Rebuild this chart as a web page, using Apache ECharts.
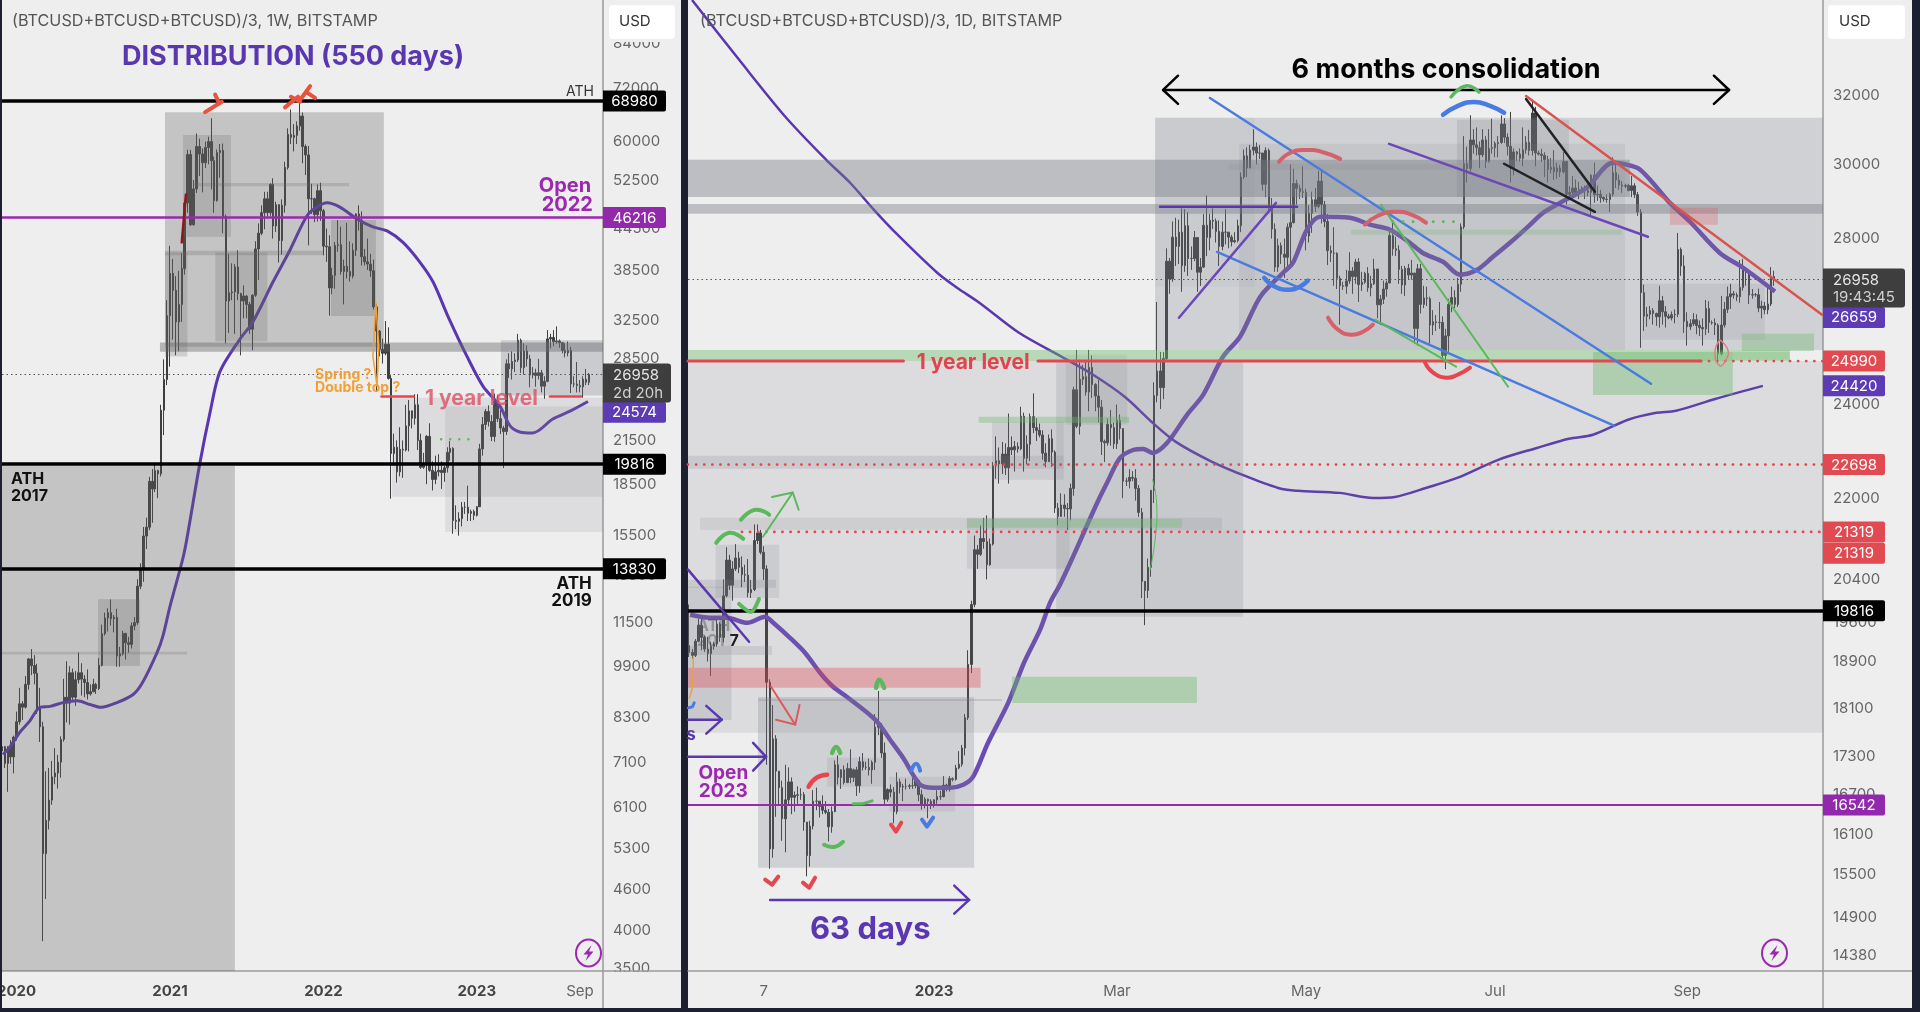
<!DOCTYPE html>
<html><head><meta charset="utf-8"><style>html,body{margin:0;padding:0;background:#1d2030}#c{width:1920px;height:1012px;filter:blur(.35px)}</style>
<script src="https://cdn.jsdelivr.net/npm/echarts@6/dist/echarts.min.js"></script></head><body><div id="c"></div>
<script>
// ---------- DATA ----------
// weekly bars, first Monday 2019-12-02: [open, close, low, high]
const weeklyBars=[
[7400,7510,7080,7750],[7510,7090,6980,7520],[7090,7500,6430,7520],[7500,7250,7080,7680],[7250,7760,6850,7800],
[7760,8180,7670,8470],[8180,8700,8100,9190],[8700,8600,8230,8780],[8600,9300,8560,9570],[9300,10150,9130,10180],[10150,9920,9600,10500],[9920,9660,9300,10280],[9660,8550,8400,9980],[8550,8040,7630,9190],[8040,5200,3850,8180],[5200,5830,4450,6900],[5830,6250,5650,6980],[6250,6770,6150,7150],[6770,6860,6600,7470],[6860,7120,6500,7300],[7120,7700,6750,7780],[7700,8900,7640,9480],[8900,8720,8160,10070],[8720,9680,8100,9900],[9680,8900,8820,9820],[8900,9450,8640,9740],[9450,9680,9330,10380],[9680,9470,8950,10000],[9470,9360,8900,9600],[9360,9000,8830,9790],[9000,9070,8950,9300],[9070,9300,9050,9480],[9300,9170,9000,9350],[9170,9930,9120,10180],[9930,11070,9890,11420],[11070,11680,11000,11900],[11680,11900,11150,12080],[11900,11650,11380,12450],[11650,11710,11120,11800],[11710,10250,9880,12060],[10250,10330,9880,10580],[10330,11080,10270,11180],[11080,10730,10130,11100],[10730,10670,10370,10950],[10670,11370,10520,11500],[11370,11500,11200,11720],[11500,13030,11410,13350],[13030,13800,12900,14100],[13800,15480,13230,15970],[15480,15960,14800,16490],[15960,18680,15800,18970],[18680,18200,16200,19480],[18200,19380,18000,19920],[19380,19170,17630,19440],[19170,23850,19000,24300],[23850,26500,21900,28400],[26500,33000,26000,34800],
[33000,38150,27700,41950],[38150,36000,30400,40100],[36000,32300,28800,37800],[32300,34300,29200,38500],[34300,38800,32300,40900],[38800,48600,38000,49000],[48600,57400,47000,58350],[57400,45100,44900,58300],[45100,51000,44950,52600],[51000,59000,50300,61700],[59000,57500,53300,60600],[57500,55800,50400,58600],[55800,58800,54800,60000],[58800,60000,55500,61000],[60000,56200,50900,65000],[56200,49000,47000,57000],[49000,57800,48800,58400],[57800,58200,53000,59500],[58200,46400,43800,59600],[46400,34700,30000,46700],[34700,35700,31100,40800],[35700,35800,34800,39500],[35800,39000,31000,39400],[39000,35600,34800,41300],[35600,34700,28800,35700],[34700,35300,32700,36600],[35300,34300,32700,35400],[34300,31500,31000,34600],[31500,35400,29300,35500],[35400,41500,35200,42600],[41500,43800,37300,45300],[43800,47000,43500,48200],[47000,49300,44400,50500],[49300,47000,46400,50500],[47000,51800,46500,52000],[51800,44900,43000,52900],[44900,48300,44000,48800],[48300,42700,39600,48400],[42700,48200,40700,49200],[48200,54900,47000,56000],[54900,61500,54500,62800],[61500,60900,59500,67000],[60900,61300,58000,63700],[61300,63300,59500,64300],[63300,65500,62300,68980],[65500,59000,55700,66300],[59000,57300,53500,59400],[57300,49300,42000,59100],[49300,49300,46800,51900],[49300,46700,45500,49500],[46700,50700,45600,51800],[50700,47300,45700,52100],
[47300,41900,40600,47600],[41900,41800,39700,44500],[41800,36300,33000,43500],[36300,37900,35500,38900],[37900,42000,36200,42500],[42000,42100,41100,45800],[42100,38400,38000,44800],[38400,39100,34300,40000],[39100,38400,37500,45400],[38400,37800,37100,42600],[37800,41300,37500,42300],[41300,46800,40500,46900],[46800,45800,44200,48200],[45800,40400,39200,47200],[40400,39700,39200,41500],[39700,39400,38600,43000],[39400,38500,37700,40800],[38500,34000,33700,40000],[34000,31300,25400,34300],[31300,29400,28700,31400],[29400,29000,28000,30500],[29000,29900,28800,32400],[29900,26600,26500,31700],[26600,20550,17600,26900],[20550,21000,19700,22000],[21000,19300,18600,21500],[19300,20850,19000,22500],[20850,20800,18900,21500],[20800,22600,20700,24300],[22600,23800,20700,24700],[23800,23200,22400,23800],[23200,24300,22700,25200],[24300,21500,20800,25200],[21500,19600,19500,22000],[19600,19800,19500,20600],[19800,21800,18500,21900],[21800,19400,19300,22800],[19400,18800,18100,20000],[18800,19300,18500,20400],[19300,19400,19000,20500],[19400,19250,18200,20000],[19250,19570,18650,19700],[19570,20630,19250,21000],[20630,20920,20050,21450],[20920,16330,15600,21000],[16330,16280,15850,17200],[16280,16430,15500,16800],[16430,17090,16000,17400],[17090,17090,16700,17400],[17090,16740,16300,18400],[16740,16840,16300,16950],[16840,16620,16350,16950],
[16620,17120,16550,17150],[17120,20880,17100,21250],[20880,22710,20400,23300],[22710,23740,22300,23950],[23740,22940,22550,24250],[22940,21790,21450,23450],[21790,24630,21400,25250],[24630,23160,22900,25150],[23160,22430,21970,23900],[22430,22160,19550,22600],[22160,27970,21900,28400],[27970,27490,26650,29000],[27490,28190,26500,29200],[28190,28340,27200,29000],[28340,30320,28150,31000],[30320,27600,27100,30500],[27600,29230,26950,30000],[29230,28450,27700,29800],[28450,26920,25800,28850],[26920,27110,26600,27650],[27110,26870,25850,27500],[26870,27120,26500,28450],[27120,25900,25350,27400],[25900,26340,24800,26800],[26340,30470,26250,31400],[30470,30620,29500,31000],[30620,30170,29700,31400],[30170,30250,29950,31800],[30250,30080,29550,30400],[30080,29280,29000,30100],[29280,29040,28600,30000],[29040,29280,28700,30200],[29280,26100,25300,29650],[26100,26090,25800,26800],[26090,25970,25350,28150],[25970,25840,25350,26450],[25840,26530,24900,26800],[26530,26250,26000,27480],[26250,26958,26000,27100]];
// daily bars, first day 2022-10-14 (day -79 from 2023-01-01): [open, close, low, high]
const dailyBars=[
[19180,19060,18980,19930],[19060,19010,18950,19120],[19010,19260,18980,19300],[19260,19550,19240,19670],[19550,19330,19100,19700],[19330,19120,19070,19360],[19120,19040,18900,19340],[19040,19170,18650,19250],[19170,19210,19110,19250],[19210,19570,19160,19690],[19570,19330,19250,19600],[19330,20090,19240,20400],[20090,20770,20060,21020],[20770,20290,20200,20870],[20290,20600,20000,20750],[20600,20810,20560,21080],[20810,20630,20520,20930],[20630,20490,20250,20840],
[20490,20480,20350,20680],[20480,20150,20060,20790],[20150,20210,20050,20390],[20210,21150,20180,21470],[21150,21300,21080,21470],[21300,20920,20880,21360],[20920,20600,20390,21040],[20600,18540,17170,20670],[18540,15880,15590,18590],[15880,17590,15750,18150],[17590,17070,16360,17650],[17070,16810,16540,17070],[16810,16330,16000,16920],[16330,16620,15830,17170],[16620,16900,16530,17130],[16900,16660,16400,16970],[16660,16690,16440,16750],[16690,16700,16550,16830],[16700,16700,16620,16800],[16700,16280,16150,16740],[16280,15780,15480,16280],[15780,16220,15620,16300],[16220,16600,16170,16770],[16600,16600,16460,16810],[16600,16520,16350,16600],[16520,16460,16400,16690],[16460,16430,16400,16600],[16430,16210,15990,16480],[16210,16440,16120,16520],[16440,17170,16430,17240],
[17170,16970,16860,17320],[16970,17090,16790,17100],[17090,16890,16860,17160],[16890,17110,16880,17200],[17110,16970,16880,17420],[16970,17090,16900,17110],[17090,16840,16680,17140],[16840,17220,16730,17300],[17220,17130,17080,17360],[17130,17130,17090,17220],[17130,17090,17000,17270],[17090,17210,16870,17240],[17210,17780,17090,18000],[17780,17810,17650,18390],[17810,17360,17280,17850],[17360,16630,16550,17530],[16630,16780,16590,16800],[16780,16740,16660,16860],[16740,16440,16260,16820],[16440,16900,16400,17050],[16900,16820,16720,16950],[16820,16830,16600,16870],[16830,16830,16780,16950],[16830,16840,16790,16870],[16840,16840,16790,16960],[16840,16920,16800,17000],[16920,16700,16600,16940],[16700,16550,16470,16780],[16550,16630,16490,16660],[16630,16600,16340,16640],[16600,16540,16480,16630],
[16540,16620,16500,16630],[16620,16670,16560,16770],[16670,16670,16620,16760],[16670,16850,16660,16990],[16850,16830,16750,16870],[16830,16950,16750,16990],[16950,16940,16910,16970],[16940,17120,16920,17170],[17120,17180,17100,17390],[17180,17440,17140,17490],[17440,17940,17320,18000],[17940,18850,17900,19100],[18850,19930,18700,20000],[19930,20970,19880,21250],[20970,20880,20600,21060],[20880,21190,20850,21450],[21190,21130,20990,21600],[21130,20680,20400,21650],[20680,21080,20660,21190],[21080,22670,21050,22750],[22670,22780,22400,23300],[22780,22710,22300,23060],[22710,22920,22500,23180],[22920,22630,22480,23150],[22630,23060,22300,23800],[23060,23010,22900,23300],[23010,23080,22550,23200],[23080,23030,22950,23170],[23030,23740,23000,23950],[23740,22830,22550,23820],[22830,23130,22700,23320],
[23130,23730,22770,23800],[23730,23490,23370,24250],[23490,23430,23200,23700],[23430,23330,23280,23580],[23330,22940,22800,23430],[22940,22760,22640,23150],[22760,23250,22750,23340],[23250,22960,22650,23450],[22960,21800,21700,23000],[21800,21630,21450,21900],[21630,21860,21620,22100],[21860,21790,21620,22080],[21790,21780,21360,21900],[21780,22200,21550,22300],[22200,24330,22050,24400],[24330,23520,23480,25250],[23520,24570,23340,25020],[24570,24630,24440,24900],[24630,24280,24200,25000],[24280,24840,23850,25250],[24840,24450,24150,25120],[24450,24190,23850,24480],[24190,23940,23600,24560],[23940,23190,22900,24100],[23190,23160,22750,23230],[23160,23560,23100,23690],[23560,23490,23100,23880],[23490,23140,23030,23600],
[23140,23650,23030,24000],[23650,23470,23230,23780],[23470,22350,22000,23480],[22350,22350,22250,22420],[22350,22430,22200,22600],[22430,22410,22350,22560],[22410,22200,21950,22600],[22200,21710,21620,22270],[21710,20360,20050,21800],[20360,20190,19550,20370],[20190,20630,20050,20800],[20630,22160,20450,22170],[22160,24200,21900,24500],[24200,24760,24050,26400],[24760,24380,23900,25200],[24380,25050,24120,25200],[25050,27420,25000,27750],[27420,26970,26600,27500],[26970,28040,26900,28450],[28040,27800,27300,28550],[27800,28170,27350,28500],[28170,27310,26650,28800],[27310,28340,27150,28780],[28340,27490,27050,28700],[27490,27490,27200,27800],[27490,28030,27420,28200],[28030,27140,26650,28000],[27140,27270,26800,27500],[27270,28350,27250,28650],[28350,28030,27550,29150],[28030,28480,27700,28650],
[28480,28460,28250,28800],[28460,28190,27900,28530],[28190,27800,27300,28480],[27800,28170,27700,28450],[28170,28170,27850,28780],[28170,28040,27750,28170],[28040,27920,27800,28100],[27920,27950,27880,28170],[27950,28340,27900,28500],[28340,29650,28170,29780],[29650,30240,29600,30420],[30240,29900,29650,30480],[29900,30400,29900,30550],[30400,30490,30260,31000],[30490,30320,30000,30620],[30320,30320,30150,30550],[30320,29450,29280,30320],[29450,30390,29100,30480],[30390,28820,28700,30450],[28820,28250,28000,29080],[28250,27270,27150,28400],[27270,27820,27150,28000],[27820,27600,27350,27900],[27600,27520,27000,28000],[27520,28300,27200,28400],[28300,28420,27280,30000],[28420,29470,28400,29880],[29470,29340,28900,29580],[29340,29250,29050,29440],[29250,29230,29080,29950],
[29230,28070,27700,29330],[28070,28670,27900,28880],[28670,29030,28150,29250],[29030,28850,28700,29350],[28850,29540,28800,29820],[29540,28900,28400,29850],[28900,28450,28300,29000],[28450,27690,27320,28650],[27690,27630,27400,27820],[27630,27620,26800,28300],[27620,26990,26720,27650],[26990,26800,25850,27050],[26800,26790,26700,26900],[26790,26920,26600,27200],[26920,27170,26850,27650],[27170,27030,26600,27270],[27030,27400,26850,27480],[27400,26830,26400,27500],[26830,26890,26670,27150],[26890,27110,26850,27150],[27110,26750,26650,27270],[26750,26850,26540,27050],[26850,27220,26820,27480],[27220,26330,26000,27220],[26330,26470,25850,26570],[26470,26720,26350,26930],[26720,26870,26530,26930],[26870,28080,26870,28200],[28080,27740,27560,28450],[27740,27700,27550,28050],[27700,27210,26850,27830],
[27210,26820,26600,27300],[26820,27240,26550,27300],[27240,27070,26950,27350],[27070,27120,26950,27450],[27120,25760,25400,27120],[25760,27230,25350,27350],[27230,26340,26120,27350],[26340,26500,26250,26800],[26500,26480,26300,26780],[26480,25840,25400,26530],[25840,25920,25600,26200],[25920,25900,25700,26080],[25900,25900,25750,26400],[25900,25120,25000,26050],[25120,25580,24800,25750],[25580,26340,25200,26480],[26340,26510,26150,26780],[26510,26340,26250,26690],[26340,26840,26280,27000],[26840,28310,26650,28400],[28310,30020,28250,30800],[30020,29890,29500,30500],[29890,30690,29800,31400],[30690,30550,30300,31000],[30550,30470,30250,31050],[30470,30270,29900,30650],[30270,30690,30200,31000],[30690,30080,29900,30800],[30080,30450,30050,31000],[30450,30470,30300,31300],
[30470,30590,30200,30650],[30590,30620,30200,30800],[30620,31150,30580,31400],[31150,30770,30600,31320],[30770,30510,30250,30880],[30510,29900,29500,31500],[29900,30350,29700,30450],[30350,30290,30100,30380],[30290,30170,30080,30450],[30170,30410,29950,31050],[30410,30620,30300,30800],[30620,30390,30250,30980],[30390,31470,30250,31800],[31470,30320,29950,31650],[30320,30290,30250,30390],[30290,30250,30070,30440],[30250,30140,29650,30340],[30140,29860,29500,30240],[29860,29920,29750,30180],[29920,29800,29570,30400],[29800,29900,29600,30050],[29900,29790,29650,29990],[29790,30080,29750,30350],[30080,29180,28900,30100],[29180,29230,29080,29400],[29230,29350,29100,29680],[29350,29210,29100,29580],[29210,29310,29050,29520],[29310,29350,29250,29400],[29350,29280,29050,29420],[29280,29230,29130,29530],
[29230,29700,28600,29730],[29700,29170,28950,30050],[29170,29180,29000,29420],[29180,29090,28950,29300],[29090,29050,28980,29120],[29050,29040,28950,29180],[29040,29180,28700,29220],[29180,29770,29120,30200],[29770,29570,29350,30100],[29570,29430,29300,29720],[29430,29400,29220,29540],[29400,29420,29350,29470],[29420,29280,29260,29460],[29280,29410,29100,29680],[29410,29170,29080,29480],[29170,28700,28600,29240],[28700,26630,25300,28780],[26630,26050,25700,26830],[26050,26100,25800,26280],[26100,26190,25980,26300],[26190,26120,25850,26250],[26120,26040,25820,26140],[26040,26430,25780,26800],[26430,26160,25850,26550],[26160,26050,25780,26300],[26050,26010,25980,26110],[26010,26090,25950,26170],[26090,26100,25880,26220],[26100,27720,26030,28150],[27720,27300,27050,27770],[27300,25930,25650,27570],
[25930,25800,25350,26150],[25800,25870,25720,25980],[25870,25970,25820,26130],[25970,25830,25620,26100],[25830,25780,25580,25950],[25780,25750,25350,26000],[25750,26240,25600,26450],[26240,25900,25650,26420],[25900,25890,25850,25950],[25890,25840,25600,26000],[25840,25160,24920,25880],[25160,25840,25120,26550],[25840,26220,25780,26400],[26220,26530,26130,26780],[26530,26600,26230,26850],[26600,26570,26480,26670],[26570,26530,26420,26630],[26530,26760,26380,27450],[26760,27210,26680,27480],[27210,27130,26800,27170],[27130,26570,26350,27150],[26570,26580,26480,26720],[26580,26580,26530,26620],[26580,26250,26150,26730],[26250,26300,26000,26430],[26300,26210,26100,26400],[26210,26350,26100,26800],[26350,27030,26300,27270],[27030,26958,26800,27180]];
// moving averages: [week from 2021-01-04, price] / [day from 2023-01-01, price]
const weeklyMA=[[-56.6,7310],[-54.2,7510],[-50.8,7900],[-47.5,8206],[-44.1,8596],[-40.7,8623],[-36.3,8735],[-31.5,8790],[-27.1,8679],[-23.4,8596],[-18,8735],[-12.5,8983],[-9.2,9379],[-4.4,10371],[-2.4,10980],[0,12157],[4.3,14294],[5.7,15313],[10.2,19954],[13.6,23691],[16.9,27204],[23.7,30434],[28.1,32299],[34.9,37039],[40.7,41353],[46.4,46465],[49.8,47915],[53.2,48635],[57.6,47915],[63.4,46000],[68.8,44763],[73.6,44143],[79,42438],[84.7,39663],[89.2,37039],[94.2,32959],[100.7,28686],[106.1,25909],[111.9,24159],[115.3,22602],[118.6,22134],[123,22056],[129.8,23145],[135.6,23769],[141.7,24574]];
const dailyFastMA=[[-78.7,19740],[-72.3,19685],[-66.8,19685],[-60.3,19594],[-54.5,19703],[-51.9,19594],[-46.5,19322],[-41.6,19052],[-36.8,18705],[-32.6,18462],[-28.1,18289],[-19,17906],[-14.2,17575],[-10,17283],[-4.5,16856],[-0.3,16809],[5.2,16809],[9.4,16856],[12.6,16982],[17.4,17525],[23.9,18187],[29,18879],[34.2,19468],[37.4,19958],[40.6,20300],[44.8,20832],[48.7,21363],[52.6,21902],[55.8,22317],[60,22840],[64.2,23007],[67.4,23029],[70.6,22944],[75.2,23160],[81.6,23772],[86.8,24216],[93.2,25088],[98.7,25560],[105.2,26525],[112.6,27127],[115.8,27380],[120.3,28235],[124.5,28576],[134.2,28550],[140.6,28367],[147.1,28235],[153.5,27892],[157.7,27631],[164.2,27405],[169.7,27079],[175.2,27203],[180.3,27531],[185.8,27892],[191.3,28288],[196.5,28682],[201.9,28946],[210.6,29357],[219,30046],[226.8,29907],[231,29577],[237.4,28946],[243.9,28444],[253.5,27631],[261,27253],[271.3,26659]];
const dailySlowMA=[[-78.1,34954],[-62.9,33064],[-48,31361],[-34.8,30129],[-27.1,29494],[-19.4,28761],[-11.8,28103],[1,27127],[7.4,26752],[14.7,26377],[27.4,25656],[41.8,25065],[51.3,24674],[61.6,24170],[70.5,23597],[78,23182],[89.7,22756],[101,22443],[111.9,22192],[117.4,22150],[130.8,22108],[141.6,22004],[148.7,22025],[158.9,22213],[169,22422],[182,22798],[194.5,23051],[204.8,23248],[212.6,23335],[223.9,23663],[233,23816],[239.4,23860],[252,24124],[267.4,24420]];
// axis ticks
const weeklyPriceTicks=[84000,72000,60000,52500,44500,38500,32500,28500,24500,21500,18500,15500,13500,11500,9900,8300,7100,6100,5300,4600,4000,3500];
const dailyPriceTicks=[32000,30000,28000,26000,24000,22000,20400,19600,18900,18100,17300,16700,16100,15500,14900,14380];
const weeklyDateLabels=[['2020-01-06','2020',1],['2021-01-04','2021',1],['2022-01-03','2022',1],['2023-01-02','2023',1],['2023-09-04','Sep',0]];
const dailyDateLabels=[['2022-11-07','7',0],['2023-01-01','2023',1],['2023-03-01','Mar',0],['2023-05-01','May',0],['2023-07-01','Jul',0],['2023-09-01','Sep',0]];
// price levels
const weeklyLevels=[[68980,'k3'],[46216,'o'],[19816,'k3'],[13830,'k3'],[26958,'cur']];
const dailyLevels=[[19816,'k3'],[16542,'o2'],[26958,'cur']];
// price tags: value shown, price where the tag sits, colour key
const weeklyTags=[['68980',68980,'k'],['46216',46216,'o'],['24574',23690,'m'],['19816',19816,'k'],['13830',13830,'k']];
const dailyTags=[['26659',26023,'m'],['24990',24990,'r'],['24420',24420,'m'],['22698',22698,'r'],['21319',21319,'r'],['21319',20900,'r'],['19816',19816,'k'],['16542',16542,'o']];
// ---------- helpers ----------
const W0=Date.UTC(2021,0,4),D0=Date.UTC(2023,0,1),DAY=864e5;
const wT=w=>W0+w*7*DAY, dT=d=>D0+d*DAY;
const N=a=>`rgba(100,100,100,${a})`,G=a=>`rgba(120,123,134,${a})`,GR=a=>`rgba(110,185,110,${a})`,RD=a=>`rgba(225,70,80,${a})`;
const PUR='#5a37b0',OPN='#9c27b0',BLU='#4a7be0',RED='#e5474e',SOFT='#d4616b',GRN='#5cb85c',ORG='#f2a033',FF='Inter',DOT=[.1,8];
// annotations, panel 1 (week, price)
const rects1=[[-57,22,19691,3475,N(.3)],[-1.7,72.5,66383,29664,N(.3)],[4.4,20.7,61369,43260,N(.22)],[-1.7,5.9,41000,28686,N(.22)],[15.4,33,41000,30214,N(.22)],[54.6,69.8,45845,32959,N(.25)],[-1.7,52,41223,40625,N(.25)],[7.8,60.7,52044,51488,N(.22)],[-3.4,146.8,30104,29149,N(.42)],[-24.4,-10.2,12455,9909,N(.25)],[-57,5.8,10404,10305,N(.22)],[112.2,146.8,30324,25075,G(.3)],[75.3,146.8,24890,17722,G(.15)],[93.3,146.8,24159,15700,G(.14)]];
const lines1=[
{c:RED,w:2.5,pts:[[71.7,24990],[82.6,24990]]},{c:RED,w:2.5,pts:[[128.8,24990],[139.3,24990]]},
{c:GRN,w:2.5,dash:[.1,9],pts:[[91.9,21588],[104.2,21588]]},
{c:ORG,w:1.5,pts:[[69.8,34499],[70.8,29700],[70.2,25909],[68.8,28686],[69.8,34499]]},
{c:'#8b1a1a',w:2.5,pts:[[4,42438],[5.4,50020]]},
{c:'#e8523e',w:4,pts:[[11.9,66383],[17.6,68781]]},{c:'#e8523e',w:4,pts:[[15.3,70512],[16.6,68564]]},
{c:'#e8523e',w:4,pts:[[39,67473],[43.4,69994]]},{c:'#e8523e',w:4,pts:[[41,69994],[44.1,68781]]},{c:'#e8523e',w:4,pts:[[44.1,69217],[47.5,72584]]},{c:'#e8523e',w:4,pts:[[46.4,71030],[49.2,69735]]}];
const texts1=[
[41.7,80889,'DISTRIBUTION (550 days)',`bold 27px ${FF}`,PUR,'center'],
[143.7,71548,'ATH',`14px ${FF}`,'#333','right'],
[142.8,51856,'Open',`bold 20px ${FF}`,OPN,'right'],[143.4,48480,'2022',`bold 20px ${FF}`,OPN,'right'],
[-53.9,18903,'ATH',`bold 16px ${FF}`,'#111','left'],[-53.9,17854,'2017',`bold 16px ${FF}`,'#111','left'],
[143,13222,'ATH',`bold 17px ${FF}`,'#111','right'],[143,12470,'2019',`bold 17px ${FF}`,'#111','right'],
[49.2,27112,'Spring ?',`bold 14px ${FF}`,ORG,'left'],[49.2,25909,'Double top ?',`bold 14px ${FF}`,ORG,'left'],
[105.6,24983,'1 year level',`bold 21px ${FF}`,'rgba(220,80,100,.8)','center']];
// annotations, panel 2 (day, price)
const rects2=[[-79.4,286.8,24990,17691,G(.15)],[71.3,286.8,31332,25248,G(.25)],[71.3,103.5,31332,26777,G(.06)],[98.4,222.9,30580,25248,G(.13)],[-79.4,224.5,30129,29108,G(.42)],[95,168.7,30019,29850,G(.12)],[-79.4,286.8,28919,28655,G(.42)],
[39.4,99.7,24990,19703,G(.2)],[42.5,62.3,25134,23553,G(.15)],[18.7,41.8,23619,22380,G(.15)],[-79.4,41.8,22882,22610,G(.18)],[10.6,43.7,21604,20604,G(.15)],[-75.5,92.9,21604,21363,G(.14)],
[-70.5,-50,21065,20051,G(.16)],[-79.4,-51,20394,20241,G(.2)],[-79.4,-65.4,20260,17900,G(.2)],[-79.4,-52.3,19177,19017,G(.18)],[-56.8,12.9,18289,15605,G(.25)],[-56.8,21.9,18254,18220,G(.25)],[-34.5,-16.1,17283,16824,G(.15)],[-14.5,6.8,16982,16440,G(.15)],
[168.7,204.8,31275,29108,G(.2)],[228.4,268,26850,25488,G(.14)],
[-79.4,15,18792,18445,RD(.35)],[237.4,252.9,28814,28367,RD(.25)],
[25.2,84.8,18635,18187,GR(.42)],[212.6,257.7,25202,24216,GR(.42)],[260.6,283.9,25632,25225,GR(.38)],[257.7,276.1,25202,25019,GR(.28)],
[-79.4,276.1,25248,24990,GR(.42)],[14.4,62.9,23729,23597,GR(.38)],[10.6,80,21585,21403,GR(.35)],[134.5,221.9,28235,28103,GR(.25)]];
const lines2=[
{c:RED,w:3,pts:[[-79.4,24990],[-9.9,24990]]},{c:RED,w:3,pts:[[33.5,24990],[247.4,24990]]},{c:RED,w:2.8,dash:DOT,pts:[[247.4,24990],[286.8,24990]]},
{c:RED,w:2.8,dash:DOT,pts:[[-79.4,22698],[286.8,22698]]},{c:RED,w:2.8,dash:DOT,pts:[[-62,21319],[286.8,21319]]},
{c:BLU,w:2.5,pts:[[89,31911],[231.3,24468]]},{c:BLU,w:2.5,pts:[[91.3,27657],[219.4,23532]]},
{c:'#6a48b8',w:2.5,pts:[[79,26017],[110.3,28946]]},{c:PUR,w:2.5,pts:[[72.9,28840],[117.1,28840]]},{c:'#6a48b8',w:2.5,pts:[[146.8,30578],[230.3,28050]]},
{c:'#222',w:2.5,pts:[[191,31882],[213.2,29246]]},{c:'#222',w:2.5,pts:[[183.9,30019],[213.2,28708]]},
{c:'#d9534f',w:2.5,pts:[[191,31970],[286.5,26089]]},
{c:GRN,w:2,pts:[[144.2,28893],[185.2,24399]]},{c:GRN,w:2,pts:[[142.3,25968],[168.4,24859]]},{c:GRN,w:2.8,dash:[.1,10],pts:[[148,28444],[169.7,28444]]},
{c:GRN,w:1,smooth:.5,pts:[[70.5,22380],[71.8,21902],[71.3,21164],[69.7,20585]]},
{c:'#000',w:2.5,pts:[[73.9,32150],[256.5,32150]]},{c:'#000',w:2.5,pts:[[78.7,32579],[73.9,32150],[78.7,31736]]},{c:'#000',w:2.5,pts:[[251.6,32579],[256.5,32150],[251.6,31736]]},
{c:BLU,w:4.5,smooth:.5,pts:[[164.2,31418],[169,31678],[174.2,31794],[179.4,31678],[183.9,31476]]},
{c:GRN,w:3.5,smooth:.5,pts:[[166.8,31942],[171.6,32270],[175.8,32090]]},
{c:SOFT,w:4,smooth:.5,pts:[[111.3,30073],[114.8,30322],[119.7,30405],[125.2,30350],[131,30156]]},
{c:SOFT,w:4,smooth:.5,pts:[[139,28367],[143.2,28603],[148.7,28708],[154.2,28629],[158.7,28420]]},
{c:SOFT,w:4,smooth:.5,pts:[[127.1,26017],[130.3,25728],[134.5,25608],[138.4,25680],[141.6,25848]]},
{c:RED,w:4,smooth:.5,pts:[[158.4,24950],[161,24721],[165.2,24605],[169,24675],[172.9,24836]]},
{c:BLU,w:4.5,smooth:.5,pts:[[106.5,27000],[110,26777],[114.8,26701],[118,26777],[120.6,26928]]},
{c:'#e08080',w:1.5,smooth:.5,pts:[[253.5,25488],[251.9,25179],[253.5,24881],[255.5,25019],[256.1,25248],[253.5,25488]]},
{c:GRN,w:4,smooth:.5,pts:[[-70.3,21104],[-66.1,21303],[-61.6,21184]]},{c:GRN,w:4,smooth:.5,pts:[[-62.3,21564],[-57.7,21763],[-53.2,21663]]},{c:GRN,w:4,smooth:.3,pts:[[-62.9,19940],[-59,19795],[-56.5,20032]]},
{c:GRN,w:2,pts:[[-55.2,21224],[-45.6,22115]]},{c:GRN,w:2,pts:[[-52.3,22025],[-45.6,22115],[-43.7,21763]]},
{c:RED,w:4,pts:[[-54.5,15432],[-52.3,15360],[-50.3,15475]]},{c:RED,w:4,pts:[[-42.3,15389],[-40.3,15317],[-38.4,15461]]},
{c:GRN,w:4.5,smooth:.5,pts:[[-32.9,17362],[-31.6,17459],[-30.3,17362]]},{c:GRN,w:4.5,smooth:.5,pts:[[-18.7,18445],[-17.7,18583],[-16.1,18445]]},{c:BLU,w:4,smooth:.5,pts:[[-7.4,17077],[-5.8,17188],[-4.5,17077]]},
{c:RED,w:4,pts:[[-13.9,16241],[-12.3,16136],[-10.6,16271]]},{c:BLU,w:4,pts:[[-3.9,16317],[-2.3,16211],[-.3,16347]]},
{c:RED,w:4.5,smooth:.5,pts:[[-40.5,16824],[-37.9,16966],[-34.5,17014]]},{c:GRN,w:4,smooth:.5,pts:[[-35.5,15940],[-32.3,15909],[-29.4,15985]]},{c:GRN,w:3,pts:[[-26.1,16559],[-23.2,16559],[-20,16604]]},
{c:PUR,w:2.5,pts:[[-79.4,17906],[-68.5,17906]]},{c:PUR,w:2.5,pts:[[-73.5,18137],[-68.5,17906],[-73.5,17675]]},
{c:PUR,w:2.5,pts:[[-79.4,17298],[-54.2,17298]]},{c:PUR,w:2.5,pts:[[-58.4,17525],[-54.2,17298],[-58.4,17077]]},
{c:'#dc5a5a',w:2,pts:[[-52.6,18462],[-44.8,17824]]},{c:'#dc5a5a',w:2,pts:[[-43.4,18154],[-44.8,17824],[-51,17906]]},
{c:PUR,w:2.5,pts:[[-52.9,15144],[11.3,15144]]},{c:PUR,w:2.5,pts:[[6.5,15346],[11.3,15144],[6.5,14952]]},
{c:ORG,w:1.5,smooth:.5,pts:[[-77.7,18983],[-78,18462],[-79,18271]]},{c:BLU,w:3,pts:[[-79.3,18104],[-78,18121],[-77.4,18187]]},
{c:PUR,w:2.5,pts:[[-79.4,20585],[-59.7,19250]]}];
const backTexts2=[[-76.5,19558,'ATH',`bold 16px ${FF}`,'rgba(70,70,70,.45)','left'],[-76.5,19286,'201',`bold 16px ${FF}`,'rgba(70,70,70,.45)','left'],[-66,19286,'7',`bold 16px ${FF}`,'#111','left']];
const texts2=[
[165.2,32822,'6 months consolidation',`bold 27px ${FF}`,'#000','center'],
[12.6,24990,'1 year level',`bold 21px ${FF}`,'#e2434e','center'],
[-68,17061,'Open',`bold 19px ${FF}`,OPN,'center'],[-68,16777,'2023',`bold 19px ${FF}`,OPN,'center'],
[-20.6,14760,'63 days',`bold 31px ${FF}`,PUR,'center'],
[-78.4,17691,'s',`bold 17px ${FF}`,PUR,'center']];
// ---------- series ----------
const rectSeries=(items,xi,T,z)=>({type:'custom',xAxisIndex:xi,yAxisIndex:xi,z,silent:true,clip:false,animation:false,
 data:items.map(r=>[T(r[0]),r[2]]),encode:{x:0,y:1},
 renderItem(p,api){const r=items[p.dataIndex],a=api.coord([T(r[0]),r[2]]),b=api.coord([T(r[1]),r[3]]);
  return{type:'rect',shape:{x:a[0],y:a[1],width:b[0]-a[0],height:b[1]-a[1]},style:{fill:r[4]}}}});
const lineSeries=(items,xi,T,z)=>({type:'custom',xAxisIndex:xi,yAxisIndex:xi,z,silent:true,clip:false,animation:false,
 data:items.map(r=>[T(r.pts[0][0]),r.pts[0][1]]),encode:{x:0,y:1},
 renderItem(p,api){const r=items[p.dataIndex];
  return{type:'polyline',shape:{points:r.pts.map(q=>api.coord([T(q[0]),q[1]])),smooth:r.smooth||0},
   style:{stroke:r.c,lineWidth:r.w,fill:null,lineDash:r.dash||null,lineCap:'round',lineJoin:'round'}}}});
const textSeries=(items,xi,T,z)=>({type:'custom',xAxisIndex:xi,yAxisIndex:xi,z,silent:true,clip:false,animation:false,
 data:items.map(r=>[T(r[0]),r[1]]),encode:{x:0,y:1},
 renderItem(p,api){const r=items[p.dataIndex],a=api.coord([T(r[0]),r[1]]);
  return{type:'text',style:{x:a[0],y:a[1]+1.8,text:r[2],font:r[3],fill:r[4],align:r[5],verticalAlign:'middle'}}}});
const dateLabelSeries=(labels,xi,ymin,z)=>({type:'custom',xAxisIndex:xi,yAxisIndex:xi,z,silent:true,clip:false,animation:false,
 data:labels.map(l=>[Date.parse(l[0]+'T00:00:00Z'),ymin]),encode:{x:0,y:1},
 renderItem(p,api){const l=labels[p.dataIndex],a=api.coord([Date.parse(l[0]+'T00:00:00Z'),ymin]);
  return{type:'text',style:{x:a[0],y:a[1]+20,text:l[1],font:`${l[2]?'bold ':''}15px ${FF}`,fill:l[2]?'#444':'#666',align:'center',verticalAlign:'middle'}}}});
const TAGC={k:'#000',o:'#9228ab',m:'#5c3bb5',r:'#e04a50'};
const tagSeries=(items,xi,xmax,width,z)=>({type:'custom',xAxisIndex:xi,yAxisIndex:xi,z,silent:true,clip:false,animation:false,
 data:items.map(r=>[xmax,r[1]]),encode:{x:0,y:1},
 renderItem(p,api){const r=items[p.dataIndex],a=api.coord([xmax,r[1]]);
  return{type:'group',children:[{type:'rect',shape:{x:a[0],y:a[1]-10.5,width,height:21,r:[0,2,2,0]},style:{fill:TAGC[r[2]]}},
   {type:'text',style:{x:a[0]+width/2,y:a[1]+.5,text:r[0],font:`15px ${FF}`,fill:'#fff',align:'center',verticalAlign:'middle'}}]}}});
const curSeries=(l2,xi,xmax,width,z)=>({type:'custom',xAxisIndex:xi,yAxisIndex:xi,z,silent:true,clip:false,animation:false,
 data:[[xmax,26958]],encode:{x:0,y:1},
 renderItem(p,api){const a=api.coord([xmax,26958]);
  return{type:'group',children:[{type:'rect',shape:{x:a[0],y:a[1]-11,width,height:39,r:[0,3,3,0]},style:{fill:'#3e3e3e'}},
   {type:'text',style:{x:a[0]+10,y:a[1]+1,text:'26958',font:`15px ${FF}`,fill:'#e4e4e4',align:'left',verticalAlign:'middle'}},
   {type:'text',style:{x:a[0]+10,y:a[1]+18.5,text:l2,font:`15px ${FF}`,fill:'#d0d0d0',align:'left',verticalAlign:'middle'}}]}}});
const LV={k3:{color:'#000',width:3.5,type:'solid'},o:{color:OPN,width:2.5,type:'solid'},o2:{color:OPN,width:2,type:'solid'},cur:{color:'#555',width:1.2,type:[1.5,3]}};
const candle=(bars,t,xi,bw)=>({type:'candlestick',xAxisIndex:xi,yAxisIndex:xi,z:2,animation:false,barWidth:bw,silent:true,
 data:bars.map((b,i)=>[t(i),b[0],b[1],b[2],b[3]]),encode:{x:0,y:[1,2,3,4]},
 itemStyle:{color:'#3e3e3e',color0:'#3e3e3e',borderColor:'#3e3e3e',borderColor0:'#3e3e3e',borderWidth:1}});
const levelsMark=l=>({silent:true,symbol:'none',animation:false,label:{show:false},data:l.map(v=>({yAxis:v[0],lineStyle:LV[v[1]]}))});
const ma=(pts,T,xi,w,c)=>({type:'line',xAxisIndex:xi,yAxisIndex:xi,z:3,silent:true,animation:false,showSymbol:false,symbol:'none',smooth:.3,
 data:pts.map(q=>[T(q[0]),q[1]]),lineStyle:{color:c,width:w}});
const w1min=wT(-56.95),w1max=wT(146.8),d2min=dT(-79.4),d2max=dT(286.8);
const c1=candle(weeklyBars,i=>Date.UTC(2019,11,2)+i*7*DAY,0,2);c1.markLine=levelsMark(weeklyLevels);
const c2=candle(dailyBars,i=>dT(i-79),1,2);c2.markLine=levelsMark(dailyLevels);
const yAxis=(min,max,ticks,gi)=>({type:'log',gridIndex:gi,position:'right',min,max,logBase:10,
 axisLine:{show:true,lineStyle:{color:'#9a9a9a',width:1.5}},axisTick:{show:false},splitLine:{show:false},minorTick:{show:false},minorSplitLine:{show:false},
 axisLabel:{show:true,customValues:ticks,margin:10,padding:[3,0,0,0],color:'#666',fontFamily:FF,fontSize:15,formatter:v=>String(Math.round(v))}});
const xAxis=(min,max,gi)=>({type:'time',gridIndex:gi,min,max,axisLine:{show:true,lineStyle:{color:'#9a9a9a',width:1.5}},axisTick:{show:false},splitLine:{show:false},axisLabel:{show:false}});
const chart=echarts.init(document.getElementById('c'),null,{renderer:'canvas'});
const panelBg=(x,w)=>({type:'rect',z:-100,silent:true,shape:{x,y:0,width:w,height:1008},style:{fill:'#eeeeee'}});
const usd=(x,w,tx)=>[{type:'rect',z:49,silent:true,shape:{x:x,y:36,width:w,height:6},style:{fill:'#eeeeee'}},{type:'rect',z:50,silent:true,shape:{x,y:5,width:w,height:34,r:4},style:{fill:'#fff'}},{type:'text',z:51,silent:true,x:tx,y:14,style:{text:'USD',font:`15px ${FF}`,fill:'#333'}}];
const bolt=(cx)=>[{type:'ellipse',z:50,silent:true,shape:{cx,cy:953,rx:12.5,ry:13.5},style:{fill:'none',stroke:OPN,lineWidth:2}},
 {type:'polygon',z:51,silent:true,shape:{points:[[cx+3,945],[cx-5,954.5],[cx-.5,954.5],[cx-3,961],[cx+5,951.5],[cx+.5,951.5]]},style:{fill:OPN}}];
chart.setOption({animation:false,useUTC:true,backgroundColor:'#1d2030',tooltip:{show:false},legend:{show:false},
 grid:[{left:2,top:0,width:601,height:971,containLabel:false},{left:688,top:0,width:1135,height:971,containLabel:false}],
 xAxis:[xAxis(w1min,w1max,0),xAxis(d2min,d2max,1)],
 yAxis:[yAxis(3475,97580,weeklyPriceTicks,0),yAxis(14176,34954,dailyPriceTicks,1)],
 series:[c1,c2,ma(weeklyMA,wT,0,3,PUR),ma(dailyFastMA,dT,1,4.5,'#6b4bb5'),ma(dailySlowMA,dT,1,2.5,PUR),
  dateLabelSeries(weeklyDateLabels,0,3475,7),dateLabelSeries(dailyDateLabels,1,14176,7),
  textSeries(backTexts2,1,dT,3.5),rectSeries(rects1,0,wT,4),rectSeries(rects2,1,dT,4),lineSeries(lines1,0,wT,5),lineSeries(lines2,1,dT,5),
  textSeries(texts1,0,wT,6),textSeries(texts2,1,dT,6),tagSeries(weeklyTags,0,w1max,63,7),tagSeries(dailyTags,1,d2max,62,7),curSeries('2d 20h',0,w1max,68,8),curSeries('19:43:45',1,d2max,82,8)],
 graphic:{elements:[panelBg(2,679),panelBg(688,1224),
  {type:'rect',z:40,silent:true,shape:{x:604,y:972,width:77,height:36},style:{fill:'#eeeeee'}},
  {type:'line',z:41,silent:true,shape:{x1:603,y1:971,x2:603,y2:1008},style:{stroke:'#9a9a9a',lineWidth:1.5}},{type:'line',z:41,silent:true,shape:{x1:603,y1:971,x2:681,y2:971},style:{stroke:'#9a9a9a',lineWidth:1.5}},
  {type:'line',z:41,silent:true,shape:{x1:1823,y1:971,x2:1823,y2:1008},style:{stroke:'#9a9a9a',lineWidth:1.5}},{type:'line',z:41,silent:true,shape:{x1:1823,y1:971,x2:1912,y2:971},style:{stroke:'#9a9a9a',lineWidth:1.5}},
  {type:'text',z:50,silent:true,x:12,y:13,style:{text:'(BTCUSD+BTCUSD+BTCUSD)/3, 1W, BITSTAMP',font:`16.2px ${FF}`,fill:'#555'}},
  {type:'text',z:50,silent:true,x:700,y:13,style:{text:'(BTCUSD+BTCUSD+BTCUSD)/3, 1D, BITSTAMP',font:`16.2px ${FF}`,fill:'#555'}},
  ...usd(609,66,619),...usd(1828,77,1839),...bolt(588.5),...bolt(1774.5),
  {type:'rect',z:60,silent:true,shape:{x:0,y:0,width:2,height:1012},style:{fill:'#1d2030'}}]}});
</script></body></html>
